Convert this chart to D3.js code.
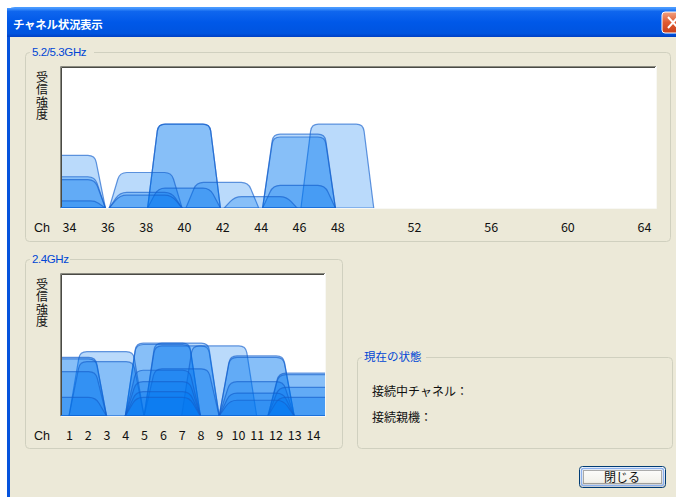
<!DOCTYPE html>
<html>
<head>
<meta charset="utf-8">
<script src="https://cdn.jsdelivr.net/npm/d3@7"></script>
<style>
body { margin: 0; background: #fff; }
svg { display: block; }
text { font-family: "Noto Sans CJK JP", "DejaVu Sans", sans-serif; }
.num { font-family: "Liberation Sans", Arial, sans-serif; }
</style>
</head>
<body>
<svg id="win" width="676" height="497"></svg>
<script>
/* 5.2/5.3GHz: channel and level (0-100) of each access point */
let ticks5 = [34, 36, 38, 40, 42, 44, 46, 48, 52, 56, 60, 64];
let ap5Ch = [34, 34, 34, 34, 38, 38, 38, 40, 40, 40, 42, 44, 46, 46, 46, 48];
let ap5Lv = [37, 22, 20, 5, 25, 11, 9, 59, 59, 14, 18, 8, 52, 50, 16, 59];

/* 2.4GHz */
let ticks24 = [1, 2, 3, 4, 5, 6, 7, 8, 9, 10, 11, 12, 13, 14];
let ap24Ch = [1, 1, 1, 1, 3, 3, 6, 6, 6, 6, 6, 6, 7, 7, 7, 9, 11, 11, 11, 11, 11, 13.6, 13.6, 13.6, 13.6];
let ap24Lv = [41, 40, 31, 13, 45, 38, 51, 50, 32, 24, 17, 13, 51, 49, 33, 49, 42, 41, 24, 16, 11, 30, 29, 20, 13];

let svg = d3.select("#win");
let defs = svg.append("defs");

// title bar gradient
let g1 = defs.append("linearGradient").attr("id", "tbar").attr("x1", 0).attr("y1", 0).attr("x2", 0).attr("y2", 1);
[[0, "#4a9bff"], [0.12, "#0f66ee"], [0.5, "#0058e8"], [0.88, "#0054df"], [1, "#0040c4"]].forEach(function(s) {
    g1.append("stop").attr("offset", s[0]).attr("stop-color", s[1]);
});
let g2 = defs.append("linearGradient").attr("id", "btn").attr("x1", 0).attr("y1", 0).attr("x2", 0).attr("y2", 1);
[[0, "#ffffff"], [0.7, "#f3f2ec"], [1, "#d6d0c5"]].forEach(function(s) {
    g2.append("stop").attr("offset", s[0]).attr("stop-color", s[1]);
});
let g3 = defs.append("linearGradient").attr("id", "cls").attr("x1", 0).attr("y1", 0).attr("x2", 0).attr("y2", 1);
[[0, "#f0a080"], [0.5, "#e05a30"], [1, "#c8401c"]].forEach(function(s) {
    g3.append("stop").attr("offset", s[0]).attr("stop-color", s[1]);
});

/* window frame */
svg.append("path")
    .attr("d", "M7,497 V15 Q7,7 15,7 H690 V497 Z")
    .attr("fill", "url(#tbar)");
svg.append("rect").attr("x", 7).attr("y", 30).attr("width", 700).attr("height", 470).attr("fill", "#0553dd");
svg.append("rect").attr("x", 10).attr("y", 37).attr("width", 700).attr("height", 470).attr("fill", "#ece9d8");
svg.append("rect").attr("x", 7).attr("y", 8).attr("width", 700).attr("height", 29).attr("fill", "url(#tbar)");

svg.append("text")
    .attr("x", 13).attr("y", 29)
    .attr("fill", "#fff")
    .attr("font-size", "11.5px")
    .attr("font-weight", "bold")
    .style("letter-spacing", "-0.3px")
    .text("チャネル状況表示");

// close button (cut off at the right)
svg.append("rect").attr("x", 662).attr("y", 12).attr("width", 22).attr("height", 21).attr("rx", 3)
    .attr("fill", "url(#cls)").attr("stroke", "#fff").attr("stroke-width", 1);
svg.append("path").attr("d", "M668,17 L678,28 M678,17 L668,28")
    .attr("stroke", "#fff").attr("stroke-width", 2);

/* group boxes */
function groupBox(x, y, w, h, label, lw) {
    svg.append("rect").attr("x", x + 0.5).attr("y", y + 0.5).attr("width", w).attr("height", h).attr("rx", 4)
        .attr("fill", "none").attr("stroke", "#d0d0bf");
    svg.append("rect").attr("x", x + 5).attr("y", y - 6).attr("width", lw).attr("height", 12).attr("fill", "#ece9d8");
    svg.append("text").attr("x", x + 7).attr("y", y + 4)
        .attr("fill", "#0046d5").attr("font-size", "11.5px")
        .attr("class", label.match(/GHz/) ? "num" : null)
        .style("letter-spacing", label.match(/GHz/) ? "-0.4px" : "0")
        .text(label);
}
groupBox(25, 52, 645, 189, "5.2/5.3GHz", 64);
groupBox(25, 259, 317, 189, "2.4GHz", 40);
groupBox(357, 357, 315, 91, "現在の状態", 64);

svg.append("text").attr("x", 372).attr("y", 396).attr("font-size", "12px").attr("fill", "#111").text("接続中チャネル：");
svg.append("text").attr("x", 372).attr("y", 422).attr("font-size", "12px").attr("fill", "#111").text("接続親機：");

/* close button */
svg.append("rect").attr("x", 579.5).attr("y", 466.5).attr("width", 86).attr("height", 21).attr("rx", 3)
    .attr("fill", "url(#btn)").attr("stroke", "#003c74");
svg.append("rect").attr("x", 581.5).attr("y", 468.5).attr("width", 82).attr("height", 17).attr("rx", 2)
    .attr("fill", "none").attr("stroke", "#8cb0ec").attr("stroke-width", 1.5);
svg.append("rect").attr("x", 583.5).attr("y", 470.5).attr("width", 78).attr("height", 13)
    .attr("fill", "none").attr("stroke", "#333").attr("stroke-dasharray", "1,1").attr("stroke-width", 0.8);
svg.append("text").attr("x", 622).attr("y", 482).attr("text-anchor", "middle").attr("font-size", "12px").attr("fill", "#111").text("閉じる");

/* one signal shape: trapezoid with rounded shoulders */
function bump(x, y, ch, lv, bw, tw) {
    let xl = x(ch - bw), xr = x(ch + bw), tl = x(ch - tw), tr = x(ch + tw);
    let yb = y(0), yt = y(lv);
    let r = Math.min(7, (yb - yt) * 0.6);
    let dx = xl - tl, dy = yb - yt, len = Math.sqrt(dx * dx + dy * dy);
    let p = d3.path();
    p.moveTo(xl, yb);
    p.lineTo(tl + r * dx / len, yt + r * dy / len);
    p.quadraticCurveTo(tl, yt, tl + r, yt);
    p.lineTo(tr - r, yt);
    p.quadraticCurveTo(tr, yt, tr - r * dx / len, yt + r * dy / len);
    p.lineTo(xr, yb);
    p.closePath();
    return p.toString();
}

function chart(id, left, top, right, bottom, domain, range, ticks, chs, lvs, bw, tw) {
    let x = d3.scaleLinear().domain(domain).range(range);
    let y = d3.scaleLinear().domain([0, 100]).range([bottom, top]);

    defs.append("clipPath").attr("id", "clip" + id)
        .append("rect").attr("x", left + 1).attr("y", top + 1).attr("width", right - left - 1).attr("height", bottom - top - 1);

    svg.append("rect").attr("x", left).attr("y", top).attr("width", right - left).attr("height", bottom - top).attr("fill", "#fff");

    let data = chs.map(function(c, i) { return { ch: c, lv: lvs[i] }; })
        .sort(function(a, b) { return b.lv - a.lv; });

    svg.append("g").attr("clip-path", "url(#clip" + id + ")")
        .selectAll("path")
        .data(data)
        .enter().append("path")
        .attr("d", function(d) { return bump(x, y, d.ch, d.lv, bw, tw); })
        .attr("fill", "rgba(0,118,240,0.27)")
        .attr("stroke", "rgba(20,95,205,0.65)")
        .attr("stroke-width", 1.2);

    // sunken border
    svg.append("path").attr("d", "M" + (left + 0.5) + "," + bottom + " V" + (top + 0.5) + " H" + right)
        .attr("fill", "none").attr("stroke", "#8a8a80").attr("stroke-width", 1);
    svg.append("path").attr("d", "M" + (left + 1.5) + "," + (bottom - 1) + " V" + (top + 1.5) + " H" + (right - 1))
        .attr("fill", "none").attr("stroke", "#4a4a44").attr("stroke-width", 1);
    svg.append("path").attr("d", "M" + (left + 1) + "," + (bottom + 0.5) + " H" + (right + 0.5) + " V" + top)
        .attr("fill", "none").attr("stroke", "#f8f8f4").attr("stroke-width", 1);

    let ax = svg.append("g")
        .attr("transform", "translate(0," + (bottom + 23.5) + ")")
        .call(d3.axisBottom(x).tickValues(ticks).tickSize(0).tickPadding(0));
    ax.select(".domain").remove();
    ax.selectAll("text").attr("y", 0).attr("dy", null)
        .attr("font-size", "12.5px").attr("fill", "#111")
        .attr("font-family", "Liberation Sans, Arial, sans-serif");

    svg.append("text").attr("x", 42).attr("y", bottom + 23.5).attr("text-anchor", "middle")
        .attr("class", "num").attr("font-size", "12.5px").attr("fill", "#111").text("Ch");

    // vertical label
    svg.append("text")
        .attr("x", 42).attr("y", top + 5)
        .attr("font-size", "12px").attr("fill", "#111")
        .style("writing-mode", "vertical-rl")
        .style("text-orientation", "upright")
        .style("letter-spacing", "0.5px")
        .text("受信強度");
}

chart("5", 60, 66, 656, 208, [34, 64], [69, 644], ticks5, ap5Ch, ap5Lv, 1.9, 1.35);
chart("24", 60, 273, 325, 416, [1, 14], [69, 313], ticks24, ap24Ch, ap24Lv, 2.0, 1.42);
</script>
</body>
</html>
